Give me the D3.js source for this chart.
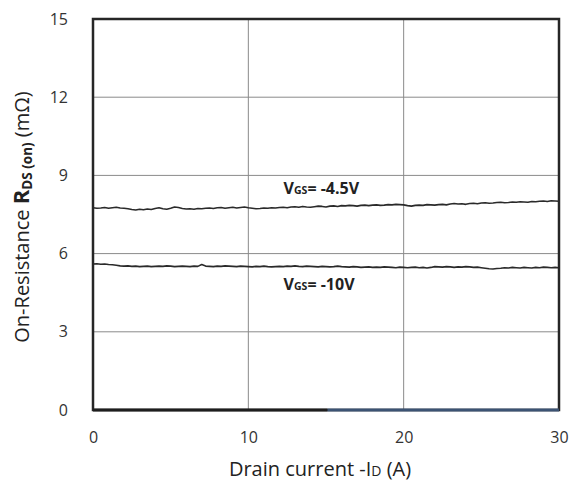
<!DOCTYPE html>
<html>
<head>
<meta charset="utf-8">
<script src="https://cdn.jsdelivr.net/npm/d3@7"></script>
<style>
  html, body { margin: 0; padding: 0; background: #fff; }
  svg { display: block; font-family: "Open Sans", Lato, sans-serif; }
</style>
</head>
<body>
<svg id="chart" width="571" height="482"></svg>
<script>
// ---- data ----
const xTicks = [0, 10, 20, 30];
const yTicks = [0, 3, 6, 9, 12, 15];
const currentStep = 0.25; // A, sampling of the traces (0 .. 30 A)
const rdsVgs45 = [
  7.76, 7.74, 7.75, 7.77, 7.74, 7.76, 7.78, 7.75, 7.74,
  7.72, 7.69, 7.67, 7.70, 7.68, 7.71, 7.69, 7.73,
  7.76, 7.72, 7.70, 7.74, 7.79, 7.77, 7.73, 7.71,
  7.72, 7.70, 7.73, 7.72, 7.74, 7.75, 7.73, 7.76,
  7.77, 7.74, 7.76, 7.78, 7.75, 7.77, 7.79, 7.76,
  7.74, 7.72, 7.73, 7.75, 7.74, 7.76, 7.75, 7.77,
  7.78, 7.76, 7.79, 7.80, 7.78, 7.81, 7.79, 7.78,
  7.80, 7.82, 7.81, 7.79, 7.82, 7.83, 7.81, 7.84,
  7.83, 7.85, 7.84, 7.82, 7.85, 7.86, 7.84, 7.86,
  7.87, 7.85, 7.86, 7.88, 7.87, 7.89, 7.88, 7.87,
  7.84, 7.82, 7.85, 7.86, 7.85, 7.88, 7.87, 7.86,
  7.88, 7.89, 7.87, 7.90, 7.92, 7.90, 7.91, 7.89,
  7.92, 7.93, 7.91, 7.94, 7.95, 7.93, 7.94, 7.96,
  7.97, 7.95, 7.96, 7.98, 7.97, 7.99, 7.98, 7.97,
  8.00, 7.99, 8.01, 8.02, 8.00, 8.03, 8.02, 8.01
];
const rdsVgs10 = [
  5.60, 5.61, 5.59, 5.60, 5.58, 5.57, 5.55, 5.53, 5.52,
  5.53, 5.51, 5.52, 5.50, 5.51, 5.52, 5.50, 5.51,
  5.52, 5.51, 5.53, 5.52, 5.50, 5.51, 5.52, 5.51,
  5.50, 5.52, 5.51, 5.58, 5.52, 5.51, 5.50, 5.52,
  5.51, 5.53, 5.52, 5.51, 5.50, 5.52, 5.51, 5.50,
  5.49, 5.51, 5.50, 5.52, 5.50, 5.49, 5.50, 5.51,
  5.50, 5.52, 5.51, 5.53, 5.51, 5.50, 5.52, 5.51,
  5.50, 5.49, 5.51, 5.50, 5.49, 5.50, 5.52, 5.50,
  5.49, 5.48, 5.50, 5.49, 5.47, 5.48, 5.49, 5.47,
  5.48, 5.47, 5.49, 5.48, 5.47, 5.46, 5.48, 5.47,
  5.46, 5.47, 5.48, 5.46, 5.47, 5.45, 5.47, 5.50,
  5.49, 5.48, 5.50, 5.49, 5.47, 5.49, 5.48, 5.50,
  5.49, 5.47, 5.48, 5.46, 5.44, 5.42, 5.41, 5.43,
  5.44, 5.46, 5.45, 5.47, 5.46, 5.45, 5.47, 5.46,
  5.45, 5.47, 5.46, 5.48, 5.47, 5.46, 5.47, 5.46
];
const seriesLabels = [
  { sub: "GS", text: "= -4.5V", at: [12.4, 8.27] },
  { sub: "GS", text: "= -10V", at: [12.4, 4.62] }
];

// ---- layout ----
const svg = d3.select("#chart");
const m = { left: 93, right: 559, top: 19, bottom: 410 };
const x = d3.scaleLinear().domain([0, 30]).range([m.left, m.right]);
const y = d3.scaleLinear().domain([0, 15]).range([m.bottom, m.top]);

// grid
const g = svg.append("g");
g.selectAll(".vg").data(xTicks.slice(1, -1)).enter().append("line")
  .attr("x1", d => x(d)).attr("x2", d => x(d))
  .attr("y1", m.top).attr("y2", m.bottom)
  .attr("stroke", "#8a8a8a").attr("stroke-width", 1);
g.selectAll(".hg").data(yTicks.slice(1, -1)).enter().append("line")
  .attr("x1", m.left).attr("x2", m.right)
  .attr("y1", d => y(d)).attr("y2", d => y(d))
  .attr("stroke", "#8a8a8a").attr("stroke-width", 1);

// axes (labels only)
const xAxis = svg.append("g").attr("transform", `translate(0,${m.bottom + 21.5})`)
  .call(d3.axisBottom(x).tickValues(xTicks).tickSize(0).tickPadding(0));
xAxis.select(".domain").remove();
xAxis.selectAll("text").attr("font-size", 16).attr("fill", "#333")
  .attr("font-family", "'Open Sans', Lato, sans-serif");

const yAxis = svg.append("g").attr("transform", `translate(${m.left - 25},0)`)
  .call(d3.axisLeft(y).tickValues(yTicks).tickSize(0).tickPadding(0));
yAxis.select(".domain").remove();
yAxis.selectAll("text").attr("font-size", 16).attr("fill", "#333")
  .attr("font-family", "'Open Sans', Lato, sans-serif");

// traces
const line = d3.line()
  .x((d, i) => x(i * currentStep))
  .y(d => y(d));
[rdsVgs45, rdsVgs10].forEach(s => {
  svg.append("path").datum(s).attr("d", line)
    .attr("fill", "none").attr("stroke", "#2a2a2a")
    .attr("stroke-width", 1.6).attr("stroke-linejoin", "round");
});

// frame
svg.append("rect")
  .attr("x", m.left).attr("y", m.top)
  .attr("width", m.right - m.left).attr("height", m.bottom - m.top)
  .attr("fill", "none").attr("stroke", "#262626").attr("stroke-width", 2.5);
// bottom edge colouring (dark then blue-grey)
svg.append("line").attr("x1", x(0)).attr("x2", x(15.1))
  .attr("y1", y(0)).attr("y2", y(0)).attr("stroke", "#1e1e1e").attr("stroke-width", 3);
svg.append("line").attr("x1", x(15.1)).attr("x2", x(30))
  .attr("y1", y(0)).attr("y2", y(0)).attr("stroke", "#3c5373").attr("stroke-width", 3);

// series labels
seriesLabels.forEach(l => {
  const t = svg.append("text")
    .attr("x", x(l.at[0]) - 2).attr("y", y(l.at[1]))
    .attr("font-weight", "bold").attr("fill", "#222")
    .attr("font-family", "'Open Sans', Lato, sans-serif");
  t.append("tspan").attr("font-size", 16).text("V");
  t.append("tspan").attr("font-size", 10.5).text(l.sub);
  t.append("tspan").attr("font-size", 16).text(l.text);
});

// x title
const xt = svg.append("text")
  .attr("x", 320).attr("y", 476)
  .attr("text-anchor", "middle").attr("font-size", 20).attr("fill", "#222");
xt.append("tspan").text("Drain current -I");
xt.append("tspan").attr("font-size", 14).text("D");
xt.append("tspan").text(" (A)");

// y title
const yt = svg.append("text")
  .attr("transform", `translate(29,217) rotate(-90)`)
  .attr("text-anchor", "middle").attr("font-size", 20).attr("fill", "#222");
yt.append("tspan").text("On-Resistance ");
yt.append("tspan").attr("font-weight", "bold").attr("font-size", 22).text("R");
yt.append("tspan").attr("font-weight", "bold").attr("font-size", 13.5).attr("dy", 3).text("DS (on)");
yt.append("tspan").attr("dy", -3).text(" (mΩ)");
</script>
</body>
</html>
